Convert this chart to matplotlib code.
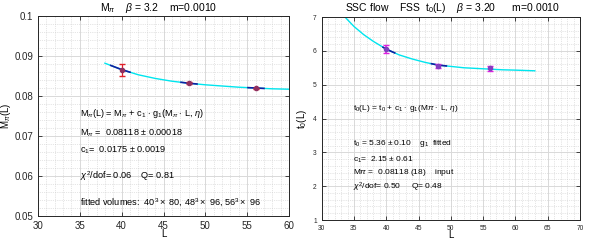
import numpy as np
import matplotlib
matplotlib.use("Agg")
import matplotlib.pyplot as plt
from matplotlib.ticker import MultipleLocator

plt.rcParams["font.family"] = ["Liberation Sans", "DejaVu Sans"]
plt.rcParams["mathtext.fontset"] = "custom"
plt.rcParams["mathtext.rm"] = "Liberation Sans"
plt.rcParams["mathtext.it"] = "Liberation Sans:italic"
plt.rcParams["mathtext.bf"] = "Liberation Sans:bold"

# ---- data: M_pi(L) panel ----
L_pts = [40, 48, 56]
mpi_vals = [0.0865, 0.0832, 0.0819]
mpi_errs = [0.0014, 0.0003, 0.0002]
mpi_fit_L = [38, 40, 42, 44, 46, 48, 50, 52, 54, 56, 58, 60]
mpi_fit = [0.0882, 0.0866, 0.0853, 0.0844, 0.0837, 0.0832,
           0.0828, 0.0825, 0.0822, 0.0820, 0.0818, 0.0817]

# ---- data: t0(L) panel ----
t0_vals = [6.05, 5.55, 5.48]
t0_errs = [0.11, 0.07, 0.08]
t0_fit_L = [33.6, 35, 36.5, 38, 40, 42, 44, 46, 48, 50, 52, 55, 58, 60, 63]
t0_fit = [7.0, 6.72, 6.48, 6.28, 6.05, 5.88, 5.76, 5.66,
          5.58, 5.54, 5.50, 5.47, 5.44, 5.43, 5.41]

CYAN = "#00e5ee"
DARK = "#1020a0"
SPINE = "0.15"


def style(ax, xmaj, xmin, ymaj, ymin, fs):
    ax.xaxis.set_major_locator(MultipleLocator(xmaj))
    ax.xaxis.set_minor_locator(MultipleLocator(xmin))
    ax.yaxis.set_major_locator(MultipleLocator(ymaj))
    ax.yaxis.set_minor_locator(MultipleLocator(ymin))
    ax.grid(which="major", color="0.85", linewidth=0.7)
    ax.grid(which="minor", color="0.8", linestyle=":", linewidth=0.5)
    ax.set_axisbelow(True)
    for s in ax.spines.values():
        s.set_color(SPINE)
        s.set_linewidth(0.7)
    ax.tick_params(which="both", direction="in", top=True, right=True,
                   colors=SPINE, labelsize=fs, length=3, width=0.6)
    ax.tick_params(which="minor", length=0)


def segment(ax, xs, ys, lo, hi):
    x = np.array(xs, dtype=float)
    y = np.array(ys, dtype=float)
    m = (x >= lo) & (x <= hi)
    xi = np.concatenate(([lo], x[m], [hi]))
    yi = np.interp(xi, x, y)
    ax.plot(xi, yi, color=DARK, lw=1.2, zorder=3)


fig = plt.figure(figsize=(6.04, 2.4), dpi=100)

# ----- left panel -----
ax1 = fig.add_axes([0.0629, 0.1, 0.4156, 0.8333])
ax1.plot(mpi_fit_L, mpi_fit, color=CYAN, lw=1.0, zorder=2)
for lo, hi in [(38.7, 41.0), (47.1, 49.0), (55.1, 57.0)]:
    segment(ax1, mpi_fit_L, mpi_fit, lo, hi)
ax1.errorbar(L_pts, mpi_vals, yerr=mpi_errs, fmt="o", ms=3,
             color="#e0202a", mfc="#903060", mec="#903060",
             ecolor="#e0202a", elinewidth=0.9, capsize=2, zorder=4)
ax1.set_xlim(30, 60)
ax1.set_ylim(0.05, 0.1)
style(ax1, 5, 1, 0.01, 0.002, 7)
ax1.set_yticks([0.05, 0.06, 0.07, 0.08, 0.09, 0.1])
ax1.set_yticklabels(["0.05", "0.06", "0.07", "0.08", "0.09", "0.1"])
ax1.set_xlabel("L", fontsize=7, labelpad=-1)
ax1.set_ylabel(r"$\mathrm{M}_\pi$(L)", fontsize=7, labelpad=1)
fig.text(100 / 604, 1 - 11 / 240,
         r"$\mathrm{M}_\pi$    $\beta$ = 3.2    m=0.0010",
         fontsize=7.5, ha="left", va="baseline")
tf = 6.6
ax1.text(35, 0.0750,
         r"$\mathrm{M}_\pi$(L) = $\mathrm{M}_\pi$ + $\mathrm{c}_1$ $\cdot$ "
         r"$\mathrm{g}_1$($\mathrm{M}_\pi\cdot$ L, $\eta$)", fontsize=tf)
ax1.text(35, 0.0702, r"$\mathrm{M}_\pi$ =  0.08118 $\pm$ 0.00018", fontsize=tf)
ax1.text(35, 0.0658, r"$\mathrm{c}_1$=  0.0175 $\pm$ 0.0019", fontsize=tf)
ax1.text(35, 0.0593, r"$\chi^2$/dof= 0.06    Q= 0.81", fontsize=tf)
ax1.text(35, 0.0525,
         r"fitted volumes:  $40^3\times$ 80, $48^3\times$ 96, $56^3\times$ 96",
         fontsize=tf)

# ----- right panel -----
ax2 = fig.add_axes([0.5326, 0.0833, 0.4277, 0.8458])
ax2.plot(t0_fit_L, t0_fit, color=CYAN, lw=1.0, zorder=2)
for lo, hi in [(39.5, 41.3), (47.0, 49.3)]:
    segment(ax2, t0_fit_L, t0_fit, lo, hi)
ax2.errorbar(L_pts, t0_vals, yerr=t0_errs, fmt="o", ms=3,
             color="#e020e0", mfc="#8040c0", mec="#8040c0",
             ecolor="#e020e0", elinewidth=1.2, capsize=2, zorder=4)
ax2.set_xlim(30, 70)
ax2.set_ylim(1, 7)
style(ax2, 5, 1, 1, 0.2, 4.8)
ax2.set_xlabel("L", fontsize=7, labelpad=-1)
ax2.set_ylabel(r"$\mathrm{t}_0$(L)", fontsize=7, labelpad=3)
fig.text(345 / 604, 1 - 11 / 240,
         r"SSC flow    FSS  $\mathrm{t}_0$(L)    $\beta$ = 3.20      m=0.0010",
         fontsize=7.5, ha="left", va="baseline")
tf2 = 6.0
ax2.text(34.8, 4.25,
         r"$\mathrm{t}_0$(L) = $\mathrm{t}_0$ + $\mathrm{c}_1\cdot$ "
         r"$\mathrm{g}_1$(M$\pi\cdot$ L, $\eta$)", fontsize=tf2)
ax2.text(34.8, 3.21, r"$\mathrm{t}_0$ = 5.36 $\pm$ 0.10    $\mathrm{g}_1$  fitted",
         fontsize=tf2)
ax2.text(34.8, 2.72, r"$\mathrm{c}_1$=  2.15 $\pm$ 0.61", fontsize=tf2)
ax2.text(34.8, 2.35, r"M$\pi$ =  0.08118 (18)    input", fontsize=tf2)
ax2.text(34.8, 1.91, r"$\chi^2$/dof= 0.50     Q= 0.48", fontsize=tf2)

fig.savefig("out.png", dpi=100)
